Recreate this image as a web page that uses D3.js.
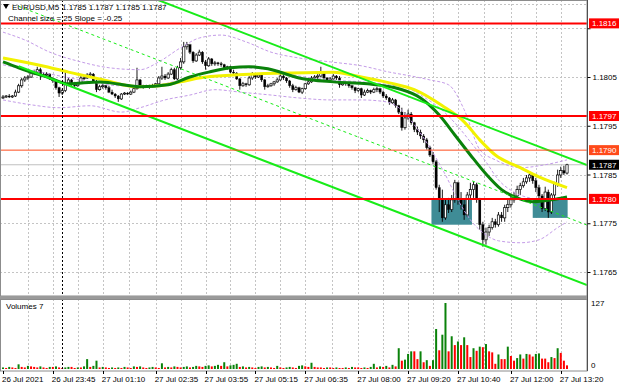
<!DOCTYPE html>
<html>
<head>
<meta charset="utf-8">
<script src="https://cdn.jsdelivr.net/npm/d3@7"></script>
<style>
    body { margin: 0; background: #fff; }
    svg text { font-family: "Liberation Sans", Arial, sans-serif; font-size: 8px; fill: #000; }
</style>
</head>
<body>
<svg id="chart" width="620" height="388"></svg>
<script>
// EURUSD M5 candles, [open, high, low, close]
const candles = [
    [1.18007,1.18013,1.18005,1.18009],[1.18009,1.18013,1.18007,1.18011],[1.18011,1.18015,1.18007,1.18009],[1.18009,1.18013,1.18007,1.18011],
    [1.18011,1.18024,1.18009,1.18019],[1.18019,1.18036,1.18017,1.18032],[1.18032,1.18048,1.18028,1.18044],[1.18044,1.18052,1.18040,1.18048],
    [1.18048,1.18054,1.18044,1.18050],[1.18050,1.18060,1.18048,1.18058],[1.18058,1.18065,1.18054,1.18060],[1.18060,1.18071,1.18056,1.18065],
    [1.18065,1.18069,1.18044,1.18056],[1.18056,1.18060,1.18050,1.18054],[1.18054,1.18060,1.18050,1.18056],[1.18056,1.18058,1.18044,1.18046],
    [1.18046,1.18048,1.18038,1.18042],[1.18042,1.18044,1.18024,1.18028],[1.18028,1.18030,1.18009,1.18017],[1.18017,1.18026,1.18013,1.18022],
    [1.18022,1.18060,1.18019,1.18036],[1.18036,1.18048,1.18032,1.18044],[1.18044,1.18046,1.18032,1.18036],[1.18036,1.18040,1.18028,1.18032],
    [1.18032,1.18040,1.18030,1.18038],[1.18038,1.18052,1.18036,1.18048],[1.18048,1.18052,1.18044,1.18048],[1.18048,1.18058,1.18046,1.18054],
    [1.18054,1.18060,1.18050,1.18056],[1.18056,1.18058,1.18038,1.18040],[1.18040,1.18044,1.18019,1.18024],[1.18024,1.18034,1.18022,1.18030],
    [1.18030,1.18036,1.18026,1.18032],[1.18032,1.18034,1.18024,1.18028],[1.18028,1.18032,1.18017,1.18019],[1.18019,1.18024,1.18013,1.18015],
    [1.18015,1.18017,1.18007,1.18011],[1.18011,1.18013,1.17999,1.18005],[1.18005,1.18017,1.18003,1.18015],[1.18015,1.18019,1.18013,1.18017],
    [1.18017,1.18019,1.18013,1.18015],[1.18015,1.18022,1.18013,1.18019],[1.18019,1.18030,1.18017,1.18026],[1.18026,1.18069,1.18024,1.18044],
    [1.18044,1.18046,1.18028,1.18032],[1.18032,1.18034,1.18026,1.18030],[1.18030,1.18034,1.18028,1.18032],[1.18032,1.18034,1.18026,1.18030],
    [1.18030,1.18036,1.18028,1.18032],[1.18032,1.18038,1.18030,1.18036],[1.18036,1.18052,1.18034,1.18048],[1.18048,1.18071,1.18044,1.18052],
    [1.18052,1.18056,1.18044,1.18048],[1.18048,1.18060,1.18046,1.18056],[1.18056,1.18069,1.18054,1.18065],[1.18065,1.18069,1.18044,1.18046],
    [1.18046,1.18073,1.18044,1.18069],[1.18069,1.18089,1.18065,1.18081],[1.18081,1.18122,1.18077,1.18112],[1.18112,1.18122,1.18106,1.18116],
    [1.18116,1.18118,1.18097,1.18101],[1.18101,1.18103,1.18079,1.18083],[1.18083,1.18099,1.18081,1.18095],[1.18095,1.18106,1.18093,1.18101],
    [1.18101,1.18103,1.18077,1.18081],[1.18081,1.18085,1.18065,1.18073],[1.18073,1.18091,1.18071,1.18087],[1.18087,1.18089,1.18073,1.18077],
    [1.18077,1.18083,1.18073,1.18079],[1.18079,1.18081,1.18073,1.18077],[1.18077,1.18081,1.18071,1.18075],[1.18075,1.18077,1.18065,1.18069],
    [1.18069,1.18073,1.18065,1.18071],[1.18071,1.18073,1.18058,1.18060],[1.18060,1.18065,1.18054,1.18058],[1.18058,1.18060,1.18044,1.18046],
    [1.18046,1.18048,1.18024,1.18032],[1.18032,1.18040,1.18030,1.18036],[1.18036,1.18038,1.18030,1.18034],[1.18034,1.18052,1.18032,1.18048],
    [1.18048,1.18060,1.18044,1.18056],[1.18056,1.18058,1.18046,1.18050],[1.18050,1.18058,1.18048,1.18054],[1.18054,1.18056,1.18040,1.18044],
    [1.18044,1.18046,1.18024,1.18030],[1.18030,1.18036,1.18028,1.18032],[1.18032,1.18038,1.18030,1.18036],[1.18036,1.18042,1.18032,1.18040],
    [1.18040,1.18048,1.18038,1.18044],[1.18044,1.18058,1.18042,1.18052],[1.18052,1.18054,1.18044,1.18048],[1.18048,1.18050,1.18038,1.18042],
    [1.18042,1.18044,1.18028,1.18032],[1.18032,1.18036,1.18019,1.18024],[1.18024,1.18032,1.18022,1.18028],[1.18028,1.18030,1.18017,1.18019],
    [1.18019,1.18028,1.18015,1.18026],[1.18026,1.18038,1.18024,1.18036],[1.18036,1.18044,1.18034,1.18040],[1.18040,1.18052,1.18038,1.18048],
    [1.18048,1.18054,1.18044,1.18050],[1.18050,1.18056,1.18046,1.18052],[1.18052,1.18071,1.18050,1.18060],[1.18060,1.18062,1.18044,1.18048],
    [1.18048,1.18050,1.18040,1.18044],[1.18044,1.18050,1.18042,1.18046],[1.18046,1.18056,1.18044,1.18052],[1.18052,1.18054,1.18044,1.18048],
    [1.18048,1.18052,1.18028,1.18034],[1.18034,1.18040,1.18032,1.18038],[1.18038,1.18040,1.18032,1.18036],[1.18036,1.18038,1.18028,1.18032],
    [1.18032,1.18034,1.18024,1.18028],[1.18028,1.18030,1.18017,1.18022],[1.18022,1.18028,1.18019,1.18026],[1.18026,1.18028,1.18007,1.18013],
    [1.18013,1.18024,1.18011,1.18019],[1.18019,1.18026,1.18017,1.18022],[1.18022,1.18024,1.18015,1.18019],[1.18019,1.18028,1.18017,1.18024],
    [1.18024,1.18030,1.18019,1.18026],[1.18026,1.18028,1.18015,1.18019],[1.18019,1.18022,1.18007,1.18011],[1.18011,1.18015,1.18003,1.18007],
    [1.18007,1.18009,1.17993,1.17997],[1.17997,1.18007,1.17995,1.18003],[1.18003,1.18005,1.17987,1.17991],[1.17991,1.17993,1.17974,1.17978],
    [1.17978,1.17987,1.17940,1.17946],[1.17946,1.17978,1.17942,1.17966],[1.17966,1.17983,1.17962,1.17974],[1.17974,1.17978,1.17952,1.17956],
    [1.17956,1.17958,1.17937,1.17942],[1.17942,1.17948,1.17931,1.17937],[1.17937,1.17942,1.17923,1.17929],[1.17929,1.17933,1.17915,1.17921],
    [1.17921,1.17925,1.17901,1.17905],[1.17905,1.17909,1.17886,1.17890],[1.17890,1.17896,1.17872,1.17876],[1.17876,1.17880,1.17819,1.17823],
    [1.17823,1.17829,1.17773,1.17798],[1.17798,1.17819,1.17753,1.17761],[1.17761,1.17798,1.17757,1.17788],[1.17788,1.17802,1.17771,1.17778],
    [1.17778,1.17808,1.17773,1.17798],[1.17798,1.17839,1.17792,1.17833],[1.17833,1.17835,1.17788,1.17798],[1.17798,1.17814,1.17778,1.17788],
    [1.17788,1.17798,1.17757,1.17767],[1.17767,1.17814,1.17763,1.17808],[1.17808,1.17833,1.17798,1.17819],[1.17819,1.17835,1.17802,1.17829],
    [1.17829,1.17833,1.17792,1.17798],[1.17798,1.17802,1.17737,1.17747],[1.17747,1.17753,1.17702,1.17716],[1.17716,1.17741,1.17706,1.17732],
    [1.17732,1.17747,1.17724,1.17741],[1.17741,1.17761,1.17737,1.17753],[1.17753,1.17759,1.17741,1.17747],[1.17747,1.17773,1.17743,1.17767],
    [1.17767,1.17773,1.17753,1.17761],[1.17761,1.17788,1.17753,1.17782],[1.17782,1.17798,1.17773,1.17788],[1.17788,1.17808,1.17782,1.17798],
    [1.17798,1.17814,1.17792,1.17806],[1.17806,1.17827,1.17802,1.17819],[1.17819,1.17833,1.17808,1.17827],[1.17827,1.17843,1.17823,1.17835],
    [1.17835,1.17849,1.17831,1.17843],[1.17843,1.17855,1.17835,1.17849],[1.17849,1.17853,1.17831,1.17837],[1.17837,1.17843,1.17814,1.17823],
    [1.17823,1.17829,1.17798,1.17806],[1.17806,1.17810,1.17773,1.17780],[1.17780,1.17825,1.17775,1.17814],[1.17814,1.17819,1.17761,1.17773],
    [1.17773,1.17812,1.17769,1.17808],[1.17808,1.17835,1.17798,1.17831],[1.17831,1.17860,1.17825,1.17849],[1.17849,1.17866,1.17843,1.17858],
    [1.17858,1.17868,1.17849,1.17853],[1.17853,1.17872,1.17850,1.17870]
];

// Tick volumes, one per candle
const volumes = [
    3, 2, 4, 3, 2, 9, 4, 3, 6, 5,   4, 3, 5, 3, 2, 4, 4, 5, 3, 2,
    3, 4, 4, 2, 3, 3, 5, 19, 4, 6,  16, 3, 4, 3, 2, 3, 2, 3, 2, 4,
    3, 2, 5, 4, 5, 3, 2, 3, 4, 3,   2, 11, 3, 4, 3, 5, 4, 3, 4, 5,
    3, 4, 6, 5, 4, 6, 7, 5, 6, 8,   6, 13, 5, 7, 8, 10, 4, 5, 3, 4,
    3, 2, 4, 5, 3, 4, 3, 2, 6, 3,   2, 3, 4, 3, 2, 6, 7, 5, 4, 12,
    4, 3, 3, 2, 3, 3, 2, 3, 2, 2,   3, 2, 4, 3, 3, 2, 3, 2, 4, 10,
    3, 5, 4, 6, 3, 8, 5,
    40, 16, 18, 29, 34, 34, 19, 34, 13, 17, 6, 17, 77, 36, 66, 127, 34, 63, 46, 53,
    46, 61, 46, 23, 40, 35, 43, 42, 48, 34, 32, 10, 28, 19, 19, 43, 25, 16, 21, 28,
    20, 29, 28, 24, 29, 30, 20, 20, 13, 23, 21, 40, 31, 16, 7
];

// Moving averages and Bollinger bands, [bar, price]
const maSlow = [[0,1.18089],[14,1.18071],[21,1.18060],[31,1.18046],[43,1.18030],[50,1.18032],[57,1.18040],[63,1.18048],
    [74,1.18054],[90,1.18058],[106,1.18060],[115,1.18050],[124,1.18038],[132,1.18024],[141,1.17991],[148,1.17958],
    [153,1.17921],[158,1.17890],[166,1.17864],[172,1.17845],[181,1.17823]];
const maFast = [[0,1.18081],[5,1.18069],[15,1.18048],[21,1.18036],[31,1.18040],[44,1.18030],[53,1.18034],[60,1.18050],
    [66,1.18060],[73,1.18069],[79,1.18071],[85,1.18067],[95,1.18048],[106,1.18040],[117,1.18036],[127,1.18026],
    [134,1.18007],[140,1.17972],[145,1.17931],[150,1.17890],[155,1.17851],[160,1.17819],[165,1.17802],[170,1.17794],
    [176,1.17798],[181,1.17804]];
const bbUpper = [[0,1.18142],[7,1.18126],[15,1.18101],[25,1.18081],[34,1.18069],[44,1.18065],[50,1.18081],[57,1.18110],
    [63,1.18130],[70,1.18136],[78,1.18122],[86,1.18101],[95,1.18089],[105,1.18081],[115,1.18073],[124,1.18060],
    [131,1.18052],[137,1.18044],[143,1.18034],[148,1.17983],[153,1.17901],[158,1.17880],[166,1.17864],[174,1.17870],[181,1.17880]];
const bbMiddle = [[0,1.18075],[12,1.18060],[25,1.18044],[38,1.18032],[47,1.18032],[57,1.18044],[66,1.18060],[76,1.18069],
    [86,1.18065],[95,1.18052],[105,1.18044],[115,1.18040],[124,1.18034],[131,1.18024],[135,1.18009],[140,1.17987],
    [145,1.17956],[150,1.17917],[155,1.17876],[159,1.17839],[164,1.17814],[169,1.17802],[175,1.17798],[181,1.17802]];
const bbLower = [[0,1.18003],[9,1.17993],[18,1.17987],[28,1.17991],[38,1.17978],[44,1.17987],[52,1.18003],[60,1.18013],
    [68,1.18024],[76,1.18019],[86,1.18013],[95,1.18007],[105,1.18003],[115,1.18003],[123,1.17999],[127,1.17987],
    [132,1.17952],[137,1.17905],[142,1.17849],[146,1.17798],[150,1.17757],[155,1.17726],[159,1.17714],[166,1.17710],
    [172,1.17716],[178,1.17741],[181,1.17753]];

// Regression channel
const channelStartBar = 5, channelStartPrice = 1.18195;
const channelEndBar = 181, channelEndPrice = 1.17762;
const channelHalfWidth = 0.00123;

// Horizontal levels and boxes
const levels = [1.1816, 1.1797, 1.1790, 1.1780];
const bidPrice = 1.1787;
const zones = [[137.5, 150.5, 1.17798, 1.17747], [170, 181.2, 1.17798, 1.17761]];

// Axes
const priceTicks = [1.1765, 1.1775, 1.1785, 1.1795, 1.1805, 1.1815];
const volumeTicks = [0, 127];
const timeLabels = ["26 Jul 2021", "26 Jul 23:45", "27 Jul 01:10", "27 Jul 02:35", "27 Jul 03:55", "27 Jul 05:15",
    "27 Jul 06:35", "27 Jul 08:00", "27 Jul 09:20", "27 Jul 10:40", "27 Jul 12:00", "27 Jul 13:20"];
const timeLabelBars = [0, 16, 32, 49, 65, 81, 97, 114, 130, 146, 163, 179];
const daySeparatorBar = 19;

// Layout
const W = 620, H = 388;
const plotRight = 587, mainBottom = 296, volTop = 299, volBottom = 371;

const svg = d3.select("#chart");

const x = d3.scaleLinear().domain([0, candles.length - 1]).range([3, 567]);
const y = d3.scaleLinear().domain([1.1765, 1.1805]).range([272, 77]);
const yVol = d3.scaleLinear().domain([0, 127]).range([369, 303]);

const defs = svg.append("defs");
defs.append("clipPath").attr("id", "clipMain")
    .append("rect").attr("x", 0).attr("y", 0).attr("width", plotRight).attr("height", mainBottom);
defs.append("clipPath").attr("id", "clipVol")
    .append("rect").attr("x", 0).attr("y", volTop).attr("width", plotRight).attr("height", volBottom - volTop);

svg.append("rect").attr("width", W).attr("height", H).attr("fill", "#fff");

const main = svg.append("g").attr("clip-path", "url(#clipMain)");
const vol = svg.append("g").attr("clip-path", "url(#clipVol)");

// Grid: label positions plus midpoints
const gridBars = [];
timeLabelBars.forEach((b, i) => {
    if (i > 0) gridBars.push(b);
    if (i < timeLabelBars.length - 1) gridBars.push((b + timeLabelBars[i + 1]) / 2);
});

[main, vol].forEach((g, k) => {
    g.selectAll(".vgrid")
        .data(gridBars)
        .join("line")
        .attr("x1", d => Math.round(x(d)) + 0.5)
        .attr("x2", d => Math.round(x(d)) + 0.5)
        .attr("y1", k === 0 ? 0 : volTop)
        .attr("y2", k === 0 ? mainBottom : volBottom)
        .attr("stroke", "#c4c4c4")
        .attr("stroke-dasharray", "2,2");
});

main.selectAll(".hgrid")
    .data(priceTicks.concat([1.1820]))
    .join("line")
    .attr("x1", 0)
    .attr("x2", plotRight)
    .attr("y1", d => Math.round(y(d)) + 0.5)
    .attr("y2", d => Math.round(y(d)) + 0.5)
    .attr("stroke", "#c4c4c4")
    .attr("stroke-dasharray", "2,2");

// Day separator
[[0, mainBottom], [volTop, volBottom]].forEach(r => {
    svg.append("line")
        .attr("x1", Math.round(x(daySeparatorBar)) + 0.5)
        .attr("x2", Math.round(x(daySeparatorBar)) + 0.5)
        .attr("y1", r[0]).attr("y2", r[1])
        .attr("stroke", "#000")
        .attr("stroke-dasharray", "2,2");
});

// Zones (teal boxes)
main.selectAll(".zone")
    .data(zones)
    .join("rect")
    .attr("x", d => x(d[0]))
    .attr("width", d => x(d[1]) - x(d[0]))
    .attr("y", d => y(d[2]))
    .attr("height", d => y(d[3]) - y(d[2]))
    .attr("fill", "#3f8c96");

// Bid line
main.append("line")
    .attr("x1", 0).attr("x2", plotRight)
    .attr("y1", y(bidPrice)).attr("y2", y(bidPrice))
    .attr("stroke", "#c0c0c0");

// Candles
const candleG = main.append("g");
candles.forEach((d, i) => {
    const cx = x(i);
    const up = d[3] >= d[0];
    candleG.append("line")
        .attr("x1", cx).attr("x2", cx)
        .attr("y1", y(d[1])).attr("y2", y(d[2]))
        .attr("stroke", "#000")
        .attr("stroke-width", 0.9);
    const top = y(Math.max(d[0], d[3]));
    const bot = y(Math.min(d[0], d[3]));
    candleG.append("rect")
        .attr("x", cx - 1.15)
        .attr("width", 2.3)
        .attr("y", top)
        .attr("height", Math.max(bot - top, 0.8))
        .attr("fill", up ? "#fff" : "#000")
        .attr("stroke", "#000")
        .attr("stroke-width", up ? 0.7 : 0.3);
});

// Bollinger bands
const curveLine = d3.line().x(d => x(d[0])).y(d => y(d[1])).curve(d3.curveMonotoneX);
[bbUpper, bbMiddle, bbLower].forEach(band => {
    main.append("path")
        .datum(band)
        .attr("d", curveLine)
        .attr("fill", "none")
        .attr("stroke", "#c49ce8")
        .attr("stroke-width", 1)
        .attr("stroke-dasharray", "3,2");
});

// Moving averages
main.append("path").datum(maSlow).attr("d", curveLine)
    .attr("fill", "none").attr("stroke", "#f2f200").attr("stroke-width", 3);
main.append("path").datum(maFast).attr("d", curveLine)
    .attr("fill", "none").attr("stroke", "#0a820a").attr("stroke-width", 3);

// Regression channel, extended to the right edge
const chSlope = (channelEndPrice - channelStartPrice) / (channelEndBar - channelStartBar);
const rightBar = x.invert(plotRight);
const chPrice = (b, off) => channelStartPrice + chSlope * (b - channelStartBar) + off;
[[channelHalfWidth, false], [-channelHalfWidth, false], [0, true]].forEach(([off, dashed]) => {
    main.append("line")
        .attr("x1", x(channelStartBar)).attr("y1", y(chPrice(channelStartBar, off)))
        .attr("x2", plotRight).attr("y2", y(chPrice(rightBar, off)))
        .attr("stroke", "#18ec18")
        .attr("stroke-width", dashed ? 1 : 2)
        .attr("stroke-dasharray", dashed ? "3,3" : null);
});

// Horizontal levels
levels.forEach(p => {
    const minor = p === 1.1790;
    main.append("line")
        .attr("x1", 0).attr("x2", plotRight)
        .attr("y1", y(p)).attr("y2", y(p))
        .attr("stroke", minor ? "#ff4a1a" : "#ff0000")
        .attr("stroke-width", minor ? 1 : 2);
});

// Volumes
const volG = vol.append("g");
volumes.forEach((v, i) => {
    const up = i === 0 || v > volumes[i - 1];
    volG.append("rect")
        .attr("x", x(i) - 1)
        .attr("width", 2)
        .attr("y", yVol(v))
        .attr("height", yVol(0) - yVol(v))
        .attr("fill", up ? "#0a820a" : "#ff0000");
});

// Frames
svg.append("rect").attr("x", 0.5).attr("y", 0.5).attr("width", plotRight - 0.5).attr("height", mainBottom - 0.5)
    .attr("fill", "none").attr("stroke", "#8c8c8c");
svg.append("rect").attr("x", 0).attr("y", mainBottom).attr("width", plotRight + 1).attr("height", volTop - mainBottom)
    .attr("fill", "#9a9a9a");
svg.append("rect").attr("x", 0.5).attr("y", volTop + 0.5).attr("width", plotRight - 0.5).attr("height", volBottom - volTop - 0.5)
    .attr("fill", "none").attr("stroke", "#8c8c8c");
svg.append("line").attr("x1", plotRight + 0.5).attr("x2", plotRight + 0.5).attr("y1", 0).attr("y2", volBottom)
    .attr("stroke", "#505050");

// Price axis; labels hidden where a level box sits on top of them
const boxPrices = levels.concat([bidPrice]);
const yAxis = d3.axisRight(y).tickValues(priceTicks).tickSize(3).tickPadding(2).tickFormat(d3.format(".4f"));
svg.append("g")
    .attr("transform", `translate(${plotRight + 0.5},0)`)
    .call(yAxis)
    .call(g => g.select(".domain").remove())
    .call(g => g.selectAll("text").style("font-size", "8px").attr("fill", "#000"))
    .call(g => g.selectAll("line").attr("stroke", "#000"))
    .call(g => g.selectAll(".tick").filter(d => boxPrices.some(p => Math.abs(y(p) - y(d)) < 9)).select("text").remove());

// Level price boxes
const fmt4 = d3.format(".4f");
boxPrices.forEach(p => {
    const fill = p === bidPrice ? "#000" : (p === 1.1790 ? "#ff4a1a" : "#ff0000");
    svg.append("rect")
        .attr("x", plotRight + 2).attr("y", y(p) - 5)
        .attr("width", 30).attr("height", 10)
        .attr("fill", fill);
    svg.append("text")
        .attr("x", plotRight + 5).attr("y", y(p) + 3)
        .style("fill", "#fff")
        .text(fmt4(p));
});

// Volume axis
volumeTicks.forEach(v => {
    svg.append("text")
        .attr("x", plotRight + 4)
        .attr("y", Math.min(yVol(v), volBottom - 6) + 3)
        .text(v);
});

// Time axis
timeLabels.forEach((t, i) => {
    const tx = Math.round(x(timeLabelBars[i])) + 0.5;
    svg.append("line")
        .attr("x1", tx).attr("x2", tx)
        .attr("y1", volBottom).attr("y2", volBottom + 3)
        .attr("stroke", "#000");
    svg.append("text")
        .attr("x", x(timeLabelBars[i]) - 1)
        .attr("y", 382)
        .text(t);
});

// Header texts
const last = candles[candles.length - 1];
svg.append("path").attr("d", "M3,4 L9,4 L6,9 Z").attr("fill", "#000");
svg.append("text").attr("x", 12).attr("y", 10).text("EURUSD,M5");
svg.append("text").attr("x", 62).attr("y", 10).text(last.map(fmt4).join(" "));
svg.append("text").attr("x", 8).attr("y", 21).text("Channel size = 25 Slope = -0.25");
svg.append("text").attr("x", 6).attr("y", 309).text(`Volumes ${volumes[volumes.length - 1]}`);
</script>
</body>
</html>
